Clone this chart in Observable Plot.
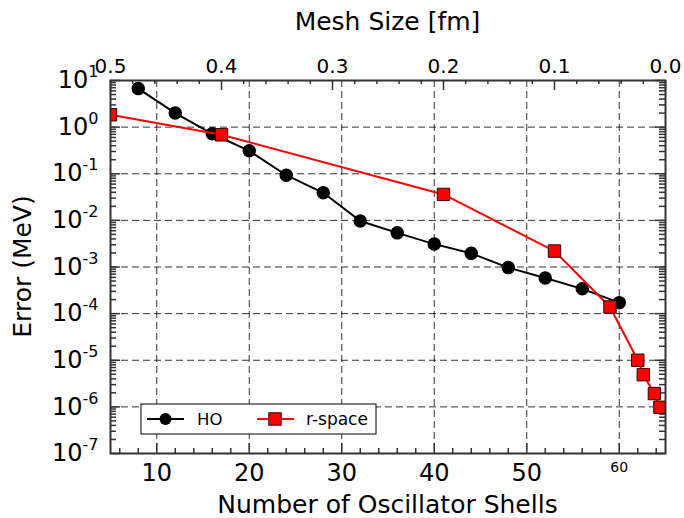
<!DOCTYPE html>
<html><head><meta charset="utf-8">
<script src="https://cdn.jsdelivr.net/npm/d3@7"></script>
<script src="https://cdn.jsdelivr.net/npm/@observablehq/plot@0.6"></script>
<style>
body{margin:0;background:#fff;}
svg{font-family:"DejaVu Sans",sans-serif;}
</style>
</head><body><div id="chart"></div>
<script>
// ---- data ----
const hoShells = [8, 12, 16, 20, 24, 28, 32, 36, 40, 44, 48, 52, 56, 60];
const hoError  = [6.7, 2.0, 0.72, 0.31, 0.093, 0.039, 0.0097, 0.0054, 0.0031, 0.00196, 0.00097, 0.00058, 0.00034, 0.000172];
const rMesh    = [0.5, 0.4, 0.2, 0.1, 0.05, 0.025, 0.02, 0.01, 0.005];
const rError   = [1.84, 0.685, 0.036, 0.0022, 0.000139, 0.0000100, 0.0000049, 0.00000193, 0.00000098];
const shellTicks = [10, 20, 30, 40, 50];
const shellTickSmall = [60];
const meshTicks = [0.5, 0.4, 0.3, 0.2, 0.1, 0.0];
const yDecades = [1e-7, 1e-6, 1e-5, 1e-4, 1e-3, 1e-2, 1e-1, 1e0, 1e1];
const seriesNames = ["HO", "r-space"];
const xLabel = "Number of Oscillator Shells";
const topLabel = "Mesh Size [fm]";
const yLabel = "Error (MeV)";

// ---- layout ----
const W = 684, H = 518, ML = 110, MR = 19, MT = 80, MB = 65;
const FW = W - ML - MR, FH = H - MT - MB;
const meshToShell = m => 65 - 120 * m;
const axisColor = "#333";

const ho = hoShells.map((s, i) => ({x: s, y: hoError[i]}));
const rs = rMesh.map((m, i) => ({x: meshToShell(m), y: rError[i]}));

const xMajor = shellTicks.concat(shellTickSmall);
const xMinor = []; for (let s = 6; s <= 64; s += 2) if (s % 10) xMinor.push(s);
const meshMinor = []; for (let i = 1; i < 25; i++) if (i % 5) meshMinor.push(meshToShell(i * 0.02));
const yMinor = []; for (let e = -7; e < 1; e++) for (let k = 2; k < 10; k++) yMinor.push(k * Math.pow(10, e));
const yGrid = yDecades.slice(1, -1);

const tickStyle = {stroke: axisColor, strokeWidth: 1.5};

const svg = Plot.plot({
  width: W, height: H,
  marginLeft: ML, marginRight: MR, marginTop: MT, marginBottom: MB,
  x: {domain: [5, 65]},
  y: {type: "log", domain: [1e-7, 1e1]},
  style: {fontFamily: "DejaVu Sans", background: "#fff", color: "#000"},
  marks: [
    Plot.ruleX(xMajor, {stroke: "#000", strokeOpacity: 0.8, strokeWidth: 1, strokeDasharray: "7,4"}),
    Plot.ruleY(yGrid, {stroke: "#000", strokeOpacity: 0.8, strokeWidth: 1, strokeDasharray: "7,4"}),
    // bottom ticks (inward)
    Plot.ruleX(xMajor, {...tickStyle, insetTop: FH - 10}),
    Plot.ruleX(xMinor, {...tickStyle, insetTop: FH - 5}),
    // top ticks (mesh)
    Plot.ruleX(meshTicks.map(meshToShell), {...tickStyle, insetBottom: FH - 10}),
    Plot.ruleX(meshMinor, {...tickStyle, insetBottom: FH - 4}),
    // left / right ticks
    Plot.ruleY(yDecades, {...tickStyle, insetRight: FW - 10}),
    Plot.ruleY(yMinor, {...tickStyle, insetRight: FW - 6}),
    Plot.ruleY(yDecades, {...tickStyle, insetLeft: FW - 10}),
    Plot.ruleY(yMinor, {...tickStyle, insetLeft: FW - 6}),
    // axes labels
    Plot.axisX(shellTicks, {anchor: "bottom", label: null, tickSize: 0, tickPadding: 10, fontSize: 24, tickFormat: d => String(d)}),
    Plot.axisX(shellTickSmall, {anchor: "bottom", label: null, tickSize: 0, tickPadding: 9, fontSize: 14, tickFormat: d => String(d)}),
    Plot.axisX(meshTicks.map(meshToShell), {anchor: "top", label: null, tickSize: 0, tickPadding: 8, fontSize: 20,
      tickFormat: d => ((65 - d) / 120).toFixed(1)}),
    Plot.axisY(yDecades, {anchor: "left", label: null, tickSize: 0, tickPadding: 12, fontSize: 24,
      tickFormat: d => String(Math.round(Math.log10(d)))}),
    // data
    Plot.line(ho, {x: "x", y: "y", stroke: "#000", strokeWidth: 2, clip: true}),
    Plot.dot(ho, {x: "x", y: "y", r: 6, fill: "#000", stroke: "#000", clip: true}),
    Plot.line(rs, {x: "x", y: "y", stroke: "#ff0000", strokeWidth: 2, clip: true}),
    Plot.dot(rs, {x: "x", y: "y", symbol: "square", r: 7, fill: "#ff0000", stroke: "#300", strokeWidth: 1, clip: true}),
    Plot.frame({stroke: axisColor, strokeWidth: 2})
  ]
});

document.getElementById("chart").appendChild(svg);
const s = d3.select(svg);

// superscript exponents on y tick labels
s.selectAll('g[aria-label="y-axis tick label"] text').each(function() {
  const t = d3.select(this);
  const e = t.text();
  t.text("");
  t.append("tspan").text("10");
  t.append("tspan").attr("dy", "-11px").attr("font-size", "16px").text(e);
});

// titles
s.append("text").attr("x", ML + FW / 2).attr("y", 30).attr("text-anchor", "middle")
  .attr("font-size", 25).attr("fill", "#000").text(topLabel);
s.append("text").attr("x", ML + FW / 2).attr("y", 513).attr("text-anchor", "middle")
  .attr("font-size", 25).attr("fill", "#000").text(xLabel);
s.append("text").attr("transform", `translate(31,${MT + FH / 2}) rotate(-90)`).attr("text-anchor", "middle")
  .attr("font-size", 25).attr("fill", "#000").text(yLabel);

// legend
const lg = s.append("g");
lg.append("rect").attr("x", 141).attr("y", 404).attr("width", 235).attr("height", 30)
  .attr("fill", "#fff").attr("stroke", "#000").attr("stroke-width", 1);
lg.append("line").attr("x1", 147).attr("x2", 184).attr("y1", 419).attr("y2", 419).attr("stroke", "#000").attr("stroke-width", 2);
lg.append("circle").attr("cx", 165.5).attr("cy", 419).attr("r", 6).attr("fill", "#000");
lg.append("text").attr("x", 197).attr("y", 425).attr("text-anchor", "start").attr("font-size", 16.5).attr("fill", "#000").text(seriesNames[0]);
lg.append("line").attr("x1", 257).attr("x2", 294).attr("y1", 419).attr("y2", 419).attr("stroke", "#ff0000").attr("stroke-width", 2);
lg.append("rect").attr("x", 268.8).attr("y", 412.8).attr("width", 12.4).attr("height", 12.4)
  .attr("fill", "#ff0000").attr("stroke", "#300").attr("stroke-width", 1);
lg.append("text").attr("x", 306).attr("y", 425).attr("text-anchor", "start").attr("font-size", 17).attr("fill", "#000").text(seriesNames[1]);
</script>
</body></html>
